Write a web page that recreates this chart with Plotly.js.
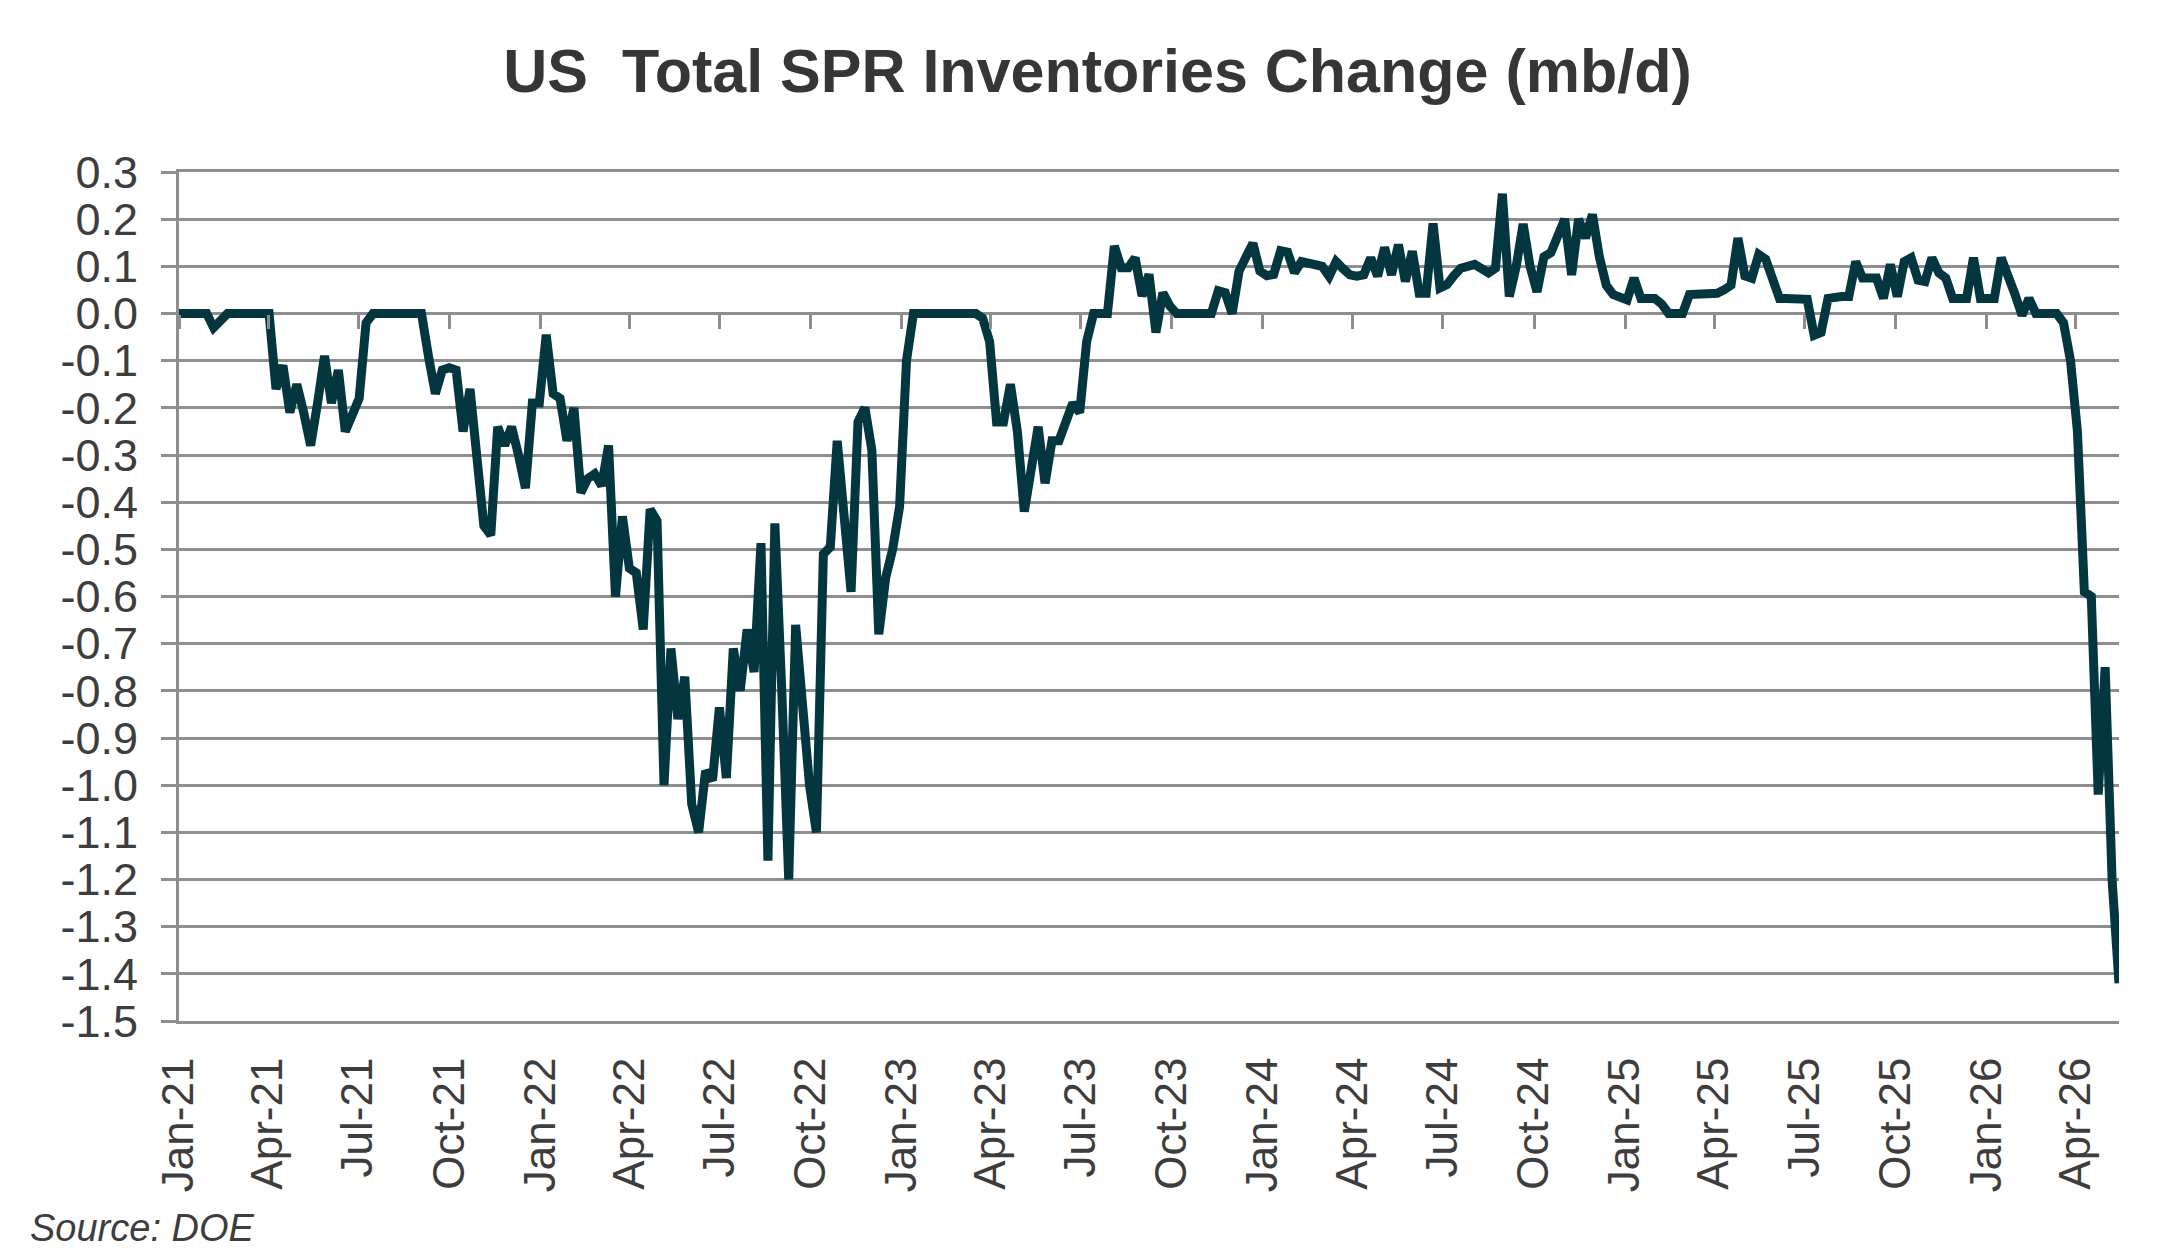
<!DOCTYPE html>
<html>
<head>
<meta charset="utf-8">
<script src="https://cdn.plot.ly/plotly-3.0.1.min.js"></script>
<style>
  html, body { margin: 0; padding: 0; background: #ffffff; }
  #chart { width: 2182px; height: 1254px; }
</style>
</head>
<body>
<div id="chart"></div>
<script>
// US SPR weekly inventory change, mb/d

const FIRST_WEEK = "2021-01-01"; // weekly, Friday-ending

const spr2021 = [
  0, 0, 0, 0, 0, -0.03, -0.015, 0, 0, 0, 0, 0, 0, 0,
  -0.16, -0.11, -0.21, -0.15, -0.21, -0.28, -0.19, -0.09, -0.19, -0.12, -0.25, -0.22, -0.18, -0.02,
  0, 0, 0, 0, 0, 0, 0, 0,
  -0.09, -0.17, -0.12, -0.115, -0.12, -0.25, -0.16, -0.31, -0.45, -0.47, -0.24, -0.28, -0.24, -0.3, -0.37, -0.19, -0.19,
];
const spr2022 = [
  -0.045, -0.17, -0.18, -0.27, -0.2, -0.38, -0.35, -0.34, -0.365, -0.28,
  -0.6, -0.43, -0.54, -0.55, -0.67, -0.415, -0.44, -1.0, -0.71, -0.86,
  -0.77, -1.04, -1.1, -0.97, -0.99, -0.835, -0.985, -0.71, -0.8, -0.67,
  -0.76, -0.487, -1.16, -0.445, -0.8, -1.2, -0.66, -0.85, -1.0, -1.1,
  -0.51, -0.495, -0.27, -0.43, -0.59, -0.23, -0.2, -0.29, -0.68, -0.56,
  -0.5, -0.41,
];
const spr2023 = [
  -0.1, 0, 0, 0, 0, 0, 0, 0, 0, 0, 0,
  -0.01, -0.06, -0.23, -0.23, -0.15, -0.25, -0.42, -0.32, -0.24, -0.36,
  -0.27, -0.27, -0.225, -0.19, -0.21, -0.06, 0, 0, 0,
  0.143, 0.097, 0.097, 0.118, 0.037, 0.083, -0.04, 0.044, 0.016, 0,
  0, 0, 0, 0, 0,
  0.048, 0.044, 0, 0.09, 0.12, 0.149, 0.09,
];
const spr2024 = [
  0.08, 0.083, 0.133, 0.13, 0.087, 0.11, 0.107, 0.1, 0.1, 0.079,
  0.11, 0.095, 0.082, 0.079, 0.082, 0.118, 0.079, 0.14, 0.082, 0.146,
  0.068, 0.132, 0.043, 0.043, 0.191, 0.054, 0.061, 0.08, 0.096, 0.1,
  0.104, 0.095, 0.086, 0.096, 0.254, 0.036, 0.1, 0.19, 0.1, 0.046,
  0.12, 0.129, 0.164, 0.2, 0.082, 0.2, 0.16, 0.21, 0.12, 0.06,
  0.04, 0.032,
];
const spr2025 = [
  0.029, 0.075, 0.032, 0.032, 0.032, 0.02, 0, 0, 0, 0.04,
  0.04, 0.04, 0.04, 0.043, 0.05, 0.06, 0.16, 0.08, 0.075, 0.125,
  0.115, 0.072, 0.032, 0.032, 0.032, 0.032, 0.03, -0.046, -0.04, 0.032,
  0.036, 0.036, 0.036, 0.11, 0.075, 0.075, 0.075, 0.032, 0.104, 0.036,
  0.11, 0.118, 0.071, 0.068, 0.118, 0.086, 0.075, 0.032, 0.032, 0.032,
  0.118, 0.032,
];
const spr2026 = [
  0.032, 0.032, 0.118, 0.082, 0.04, -0.004, 0.032, 0, 0, 0,
  0, -0.02, -0.1, -0.25, -0.59, -0.6, -1.02, -0.75, -1.2, -1.42,
];

const tickDates = [
  "2021-01-01", "2021-04-01", "2021-07-01", "2021-10-01",
  "2022-01-01", "2022-04-01", "2022-07-01", "2022-10-01",
  "2023-01-01", "2023-04-01", "2023-07-01", "2023-10-01",
  "2024-01-01", "2024-04-01", "2024-07-01", "2024-10-01",
  "2025-01-01", "2025-04-01", "2025-07-01", "2025-10-01",
  "2026-01-01", "2026-04-01",
];
const tickLabels = [
  "Jan-21", "Apr-21", "Jul-21", "Oct-21",
  "Jan-22", "Apr-22", "Jul-22", "Oct-22",
  "Jan-23", "Apr-23", "Jul-23", "Oct-23",
  "Jan-24", "Apr-24", "Jul-24", "Oct-24",
  "Jan-25", "Apr-25", "Jul-25", "Oct-25",
  "Jan-26", "Apr-26",
];
const yTickVals = [0.3, 0.2, 0.1, 0, -0.1, -0.2, -0.3, -0.4, -0.5, -0.6, -0.7, -0.8, -0.9, -1.0, -1.1, -1.2, -1.3, -1.4, -1.5];
const yTickText = ["0.3", "0.2", "0.1", "0.0", "-0.1", "-0.2", "-0.3", "-0.4", "-0.5", "-0.6", "-0.7", "-0.8", "-0.9", "-1.0", "-1.1", "-1.2", "-1.3", "-1.4", "-1.5"];

const values = [...spr2021, ...spr2022, ...spr2023, ...spr2024, ...spr2025, ...spr2026];

// weekly calendar for the x axis
function weekDates(start, n) {
  const out = [];
  const d0 = new Date(start + "T00:00:00Z");
  for (let i = 0; i < n; i++) {
    const d = new Date(d0.getTime() + i * 7 * 86400000);
    out.push(d.toISOString().slice(0, 10));
  }
  return out;
}
const dates = weekDates(FIRST_WEEK, values.length);

const GRID = "#8e8e8e";
const INK = "#3d3d3d";
const LINE = "#04363f";
const FONT = '"Liberation Sans", Arial, Helvetica, sans-serif';
const xRange = [dates[0], dates[dates.length - 1]];

const traces = [
  // invisible copy so the zero-line tick axis gets drawn
  {
    x: dates,
    y: values,
    xaxis: "x2",
    type: "scatter",
    mode: "lines",
    line: { color: "rgba(0,0,0,0)", width: 0 },
    hoverinfo: "skip",
    showlegend: false,
  },
  {
    x: dates,
    y: values,
    type: "scatter",
    mode: "lines",
    line: { color: LINE, width: 9 },
    hoverinfo: "skip",
    showlegend: false,
  },
];

const layout = {
  width: 2182,
  height: 1254,
  paper_bgcolor: "#ffffff",
  plot_bgcolor: "#ffffff",
  margin: { l: 179, r: 63, t: 172, b: 233 },
  font: { family: FONT, color: INK },
  title: {
    text: "US\u00a0 Total SPR Inventories Change (mb/d)",
    font: { family: FONT, size: 61, color: "#363636", weight: "bold" },
    xref: "container",
    x: 0.503,
    yref: "container",
    y: 1 - 71 / 1254,
    yanchor: "middle",
  },
  xaxis: {
    type: "date",
    range: xRange,
    tickvals: tickDates,
    ticktext: tickLabels,
    tickangle: -90,
    tickfont: { family: FONT, size: 44, color: INK },
    ticks: "",
    ticklabelstandoff: 16,
    showgrid: false,
    zeroline: false,
    showline: true,
    mirror: true,
    linecolor: GRID,
    linewidth: 3,
  },
  // tick marks sitting on the zero line, as in the source chart
  xaxis2: {
    type: "date",
    overlaying: "x",
    matches: "x",
    anchor: "free",
    position: 1.5 / 1.8,
    side: "bottom",
    range: xRange,
    tickvals: tickDates,
    ticks: "outside",
    ticklen: 14,
    tickwidth: 3,
    tickcolor: GRID,
    showticklabels: false,
    showgrid: false,
    showline: false,
    zeroline: false,
  },
  yaxis: {
    range: [-1.5, 0.3],
    tickvals: yTickVals,
    ticktext: yTickText,
    tickfont: { family: FONT, size: 45, color: INK },
    ticks: "outside",
    ticklen: 15,
    tickwidth: 3,
    tickcolor: GRID,
    ticklabelstandoff: 14,
    showgrid: true,
    gridcolor: GRID,
    gridwidth: 3,
    zeroline: false,
    showline: true,
    linecolor: GRID,
    linewidth: 3,
  },
  annotations: [
    {
      text: "Source: DOE",
      xref: "paper",
      yref: "paper",
      x: (28 - 179) / 1940,
      y: (1021 - 1228) / 849,
      xanchor: "left",
      yanchor: "middle",
      showarrow: false,
      font: { family: FONT, size: 38, color: INK, style: "italic" },
    },
  ],
};

Plotly.newPlot("chart", traces, layout, { displayModeBar: false, staticPlot: true });
</script>
</body>
</html>
